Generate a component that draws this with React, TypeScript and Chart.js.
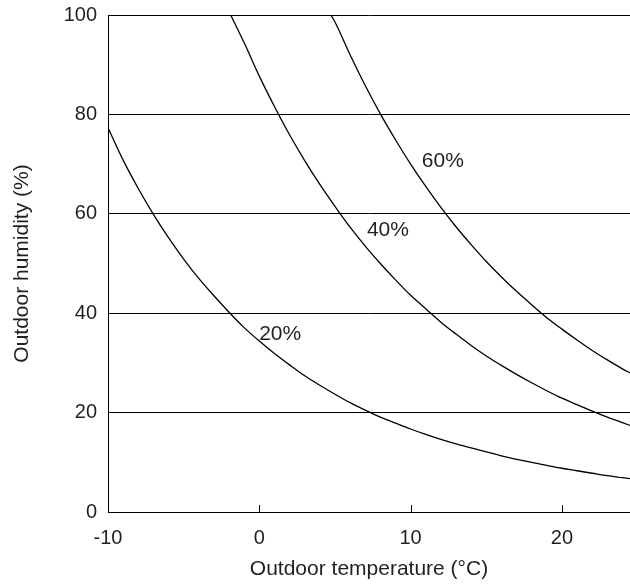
import React, { useEffect, useRef } from "react";
import { Chart, registerables } from "chart.js";

Chart.register(...registerables);

// Outdoor temperature (°C) and outdoor humidity (%) for each indoor-humidity curve
const temps20 = [-10, -9, -8, -7, -6, -5, -4, -3, -2, -1, 0, 1, 2, 3, 4, 5, 6, 7, 8, 9, 10, 11, 12, 13, 14, 15, 16, 17, 18, 19, 20, 21, 22, 23, 24, 24.5];
const hum20 = [77.3, 70.8, 65.1, 59.9, 55.2, 50.9, 47.0, 43.5, 40.2, 37.1, 34.4, 31.9, 29.6, 27.4, 25.5, 23.7, 22.0, 20.5, 19.1, 17.9, 16.7, 15.6, 14.6, 13.7, 12.9, 12.1, 11.3, 10.6, 10.0, 9.4, 8.8, 8.3, 7.8, 7.3, 6.9, 6.7];

const temps40 = [-1.89, -1, 0, 1, 2, 3, 4, 5, 6, 7, 8, 9, 10, 11, 12, 13, 14, 15, 16, 17, 18, 19, 20, 21, 22, 23, 24, 24.5];
const hum40 = [100, 94.4, 87.7, 81.6, 75.9, 70.7, 65.9, 61.5, 57.3, 53.5, 50.0, 46.7, 43.6, 40.9, 38.2, 35.8, 33.5, 31.4, 29.5, 27.7, 26.0, 24.4, 22.9, 21.6, 20.3, 19.1, 18.0, 17.4];

const temps60 = [4.73, 5, 6, 7, 8, 9, 10, 11, 12, 13, 14, 15, 16, 17, 18, 19, 20, 21, 22, 23, 24, 24.5];
const hum60 = [100, 98.6, 92.0, 85.8, 80.1, 74.9, 70.0, 65.5, 61.3, 57.4, 53.8, 50.4, 47.3, 44.4, 41.7, 39.1, 36.8, 34.6, 32.5, 30.6, 28.8, 28.0];

const curveLabels = ["20%", "40%", "60%"];
const curveLabelX = [1.38, 8.5, 12.13];
const curveLabelY = [35.7, 56.8, 70.5];

const xTicks = [-10, 0, 10, 20];
const innerTicks = [0, 10, 20];

const FONT = "'Liberation Sans', Arial, Helvetica, sans-serif";
const TEXT = "#231f20";

const toPoints = (xs: number[], ys: number[]) => xs.map((x, i) => ({ x, y: ys[i] }));

export default function App() {
  const ref = useRef<HTMLCanvasElement | null>(null);

  useEffect(() => {
    document.body.style.margin = "0";
    const canvas = ref.current;
    if (!canvas) return;

    const overlay = {
      id: "overlay",
      afterDraw(chart: any) {
        const { ctx, chartArea, scales } = chart;
        const xs = scales.x;
        const ys = scales.y;
        ctx.save();
        ctx.strokeStyle = "#000";
        ctx.lineWidth = 1;
        innerTicks.forEach((v) => {
          const px = Math.round(xs.getPixelForValue(v)) + 0.5;
          ctx.beginPath();
          ctx.moveTo(px, chartArea.bottom);
          ctx.lineTo(px, chartArea.bottom - 7);
          ctx.stroke();
        });
        ctx.fillStyle = TEXT;
        ctx.font = `21px ${FONT}`;
        ctx.textAlign = "center";
        ctx.textBaseline = "middle";
        curveLabels.forEach((t, i) => {
          ctx.fillText(t, xs.getPixelForValue(curveLabelX[i]), ys.getPixelForValue(curveLabelY[i]));
        });
        ctx.restore();
      },
    };

    const lineStyle = {
      borderColor: "#000",
      borderWidth: 1.3,
      pointRadius: 0,
      showLine: true,
      fill: false,
      cubicInterpolationMode: "monotone" as const,
    };

    const chart = new Chart(canvas, {
      type: "scatter",
      data: {
        datasets: [
          { label: "20%", data: toPoints(temps20, hum20), ...lineStyle },
          { label: "40%", data: toPoints(temps40, hum40), ...lineStyle },
          { label: "60%", data: toPoints(temps60, hum60), ...lineStyle },
        ],
      },
      options: {
        responsive: false,
        animation: false,
        devicePixelRatio: 1,
        layout: { padding: { top: 15, right: 0, bottom: 0, left: 0 } },
        plugins: { legend: { display: false }, tooltip: { enabled: false } },
        scales: {
          x: {
            type: "linear",
            min: -10,
            max: 24.5,
            afterBuildTicks: (s: any) => {
              s.ticks = xTicks.map((v) => ({ value: v }));
            },
            afterFit: (s: any) => {
              s.height = 74;
              s.paddingLeft = 0;
              s.paddingRight = 0;
            },
            grid: { drawOnChartArea: false, drawTicks: false },
            border: { display: true, color: "#000", width: 1 },
            ticks: { font: { family: FONT, size: 20 }, color: TEXT, padding: 14, maxRotation: 0 },
            title: {
              display: true,
              text: "Outdoor temperature (°C)",
              font: { family: FONT, size: 21 },
              color: TEXT,
              padding: { top: 0, bottom: 4 },
            },
          },
          y: {
            type: "linear",
            min: 0,
            max: 100,
            afterFit: (s: any) => {
              s.width = 108;
              s.paddingTop = 0;
              s.paddingBottom = 0;
            },
            ticks: { stepSize: 20, font: { family: FONT, size: 20 }, color: TEXT, padding: 11 },
            grid: { color: "#000", lineWidth: 1, drawTicks: false },
            border: { display: true, color: "#000", width: 1 },
            title: {
              display: true,
              text: "Outdoor humidity (%)",
              font: { family: FONT, size: 21 },
              color: TEXT,
              padding: { top: 10, bottom: 0 },
            },
          },
        },
      },
      plugins: [overlay],
    });

    return () => chart.destroy();
  }, []);

  return (
    <div style={{ position: "absolute", left: 0, top: 0, width: 630, height: 586 }}>
      <canvas ref={ref} width={630} height={586} />
    </div>
  );
}
